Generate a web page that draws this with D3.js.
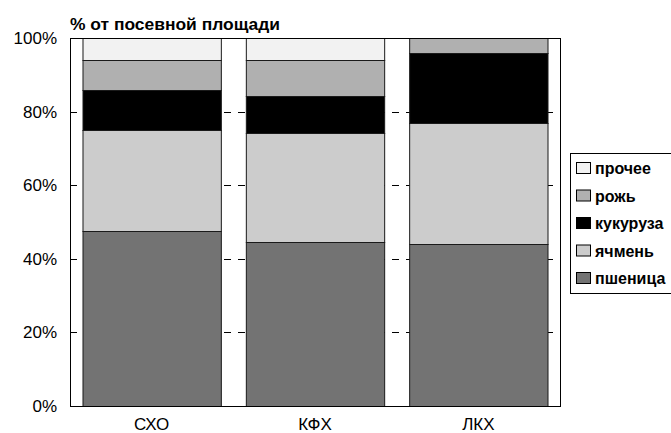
<!DOCTYPE html>
<html><head><meta charset="utf-8">
<script src="https://cdn.jsdelivr.net/npm/d3@7"></script>
<style>body{margin:0;background:#fff}svg{display:block}text{font-family:"Liberation Sans",Arial,sans-serif}</style>
</head><body>
<script>
const categories = ["СХО", "КФХ", "ЛКХ"];
const seriesNames = ["пшеница", "ячмень", "кукуруза", "рожь", "прочее"];
const wheat = [47.5, 44.5, 44];
const barley = [27.5, 29.7, 33];
const corn = [11, 10, 19];
const rye = [8, 9.8, 4];
const other = [6, 6, 0];
const yTicks = [0, 20, 40, 60, 80, 100];
const colors = ["#737373", "#cccccc", "#000000", "#b0b0b0", "#f2f2f2"];
const titleText = "% от посевной площади";

const W = 671, H = 433;
const m = {left: 70, right: 111, top: 38, bottom: 27};
const svg = d3.select("body").append("svg").attr("width", W).attr("height", H);

const x = d3.scaleBand().domain(categories).range([m.left, W - m.right]).paddingInner(0.153).paddingOuter(0.0765);
const y = d3.scaleLinear().domain([0, 100]).range([H - m.bottom, m.top]);

const rows = categories.map((c, i) => ({cat: c, "пшеница": wheat[i], "ячмень": barley[i], "кукуруза": corn[i], "рожь": rye[i], "прочее": other[i]}));
const stacked = d3.stack().keys(seriesNames)(rows);
const color = d3.scaleOrdinal().domain(seriesNames).range(colors);

// gridlines
svg.append("g").selectAll("line").data(yTicks.filter(t => t > 0 && t < 100)).join("line")
  .attr("x1", m.left).attr("x2", W - m.right)
  .attr("y1", d => Math.round(y(d)) + 0.5).attr("y2", d => Math.round(y(d)) + 0.5)
  .attr("stroke", "#000").attr("stroke-dasharray", "7,7");

// bars
svg.append("g").selectAll("g").data(stacked).join("g")
  .attr("fill", d => color(d.key))
  .selectAll("rect").data(d => d.filter(s => s[1] - s[0] > 0)).join("rect")
  .attr("x", d => x(d.data.cat) + 0.5)
  .attr("width", x.bandwidth())
  .attr("y", d => Math.round(y(d[1])) + 0.5)
  .attr("height", d => Math.round(y(d[0])) - Math.round(y(d[1])))
  .attr("stroke", "#1a1a1a").attr("stroke-width", 1);

// frame
svg.append("rect").attr("x", m.left + 0.5).attr("y", m.top + 0.5)
  .attr("width", W - m.right - m.left).attr("height", H - m.bottom - m.top)
  .attr("fill", "none").attr("stroke", "#000");

// y axis
const yAxis = d3.axisLeft(y).tickValues(yTicks).tickFormat(d => d + "%").tickSize(0).tickPadding(13);
const gy = svg.append("g").attr("transform", `translate(${m.left},0)`).call(yAxis);
gy.select(".domain").remove();
gy.selectAll("text").attr("font-size", 17).attr("fill", "#000").attr("font-family", "Liberation Sans, Arial, sans-serif");

// x axis
const xAxis = d3.axisBottom(x).tickSize(0).tickPadding(12);
const gx = svg.append("g").attr("transform", `translate(0,${H - m.bottom})`).call(xAxis);
gx.select(".domain").remove();
gx.selectAll("text").attr("font-size", 17).attr("fill", "#000").attr("font-family", "Liberation Sans, Arial, sans-serif");

// title
svg.append("text").attr("x", m.left).attr("y", 30).attr("font-size", 16).attr("font-weight", "bold")
  .attr("textLength", 210).attr("lengthAdjust", "spacingAndGlyphs").text(titleText);

// legend
const lg = svg.append("g");
lg.append("rect").attr("x", 570.5).attr("y", 153.5).attr("width", 110).attr("height", 140).attr("fill", "#fff").attr("stroke", "#000");
const legendItems = seriesNames.slice().reverse();
const li = lg.selectAll("g").data(legendItems).join("g").attr("transform", (d, i) => `translate(576,${168 + i * 27.5})`);
li.append("rect").attr("x", 0.5).attr("y", -5.5).attr("width", 14).attr("height", 11).attr("fill", d => color(d)).attr("stroke", "#000");
li.append("text").attr("x", 19).attr("y", 6).attr("font-size", 16).attr("font-weight", "bold").text(d => d);
</script>
</body></html>
